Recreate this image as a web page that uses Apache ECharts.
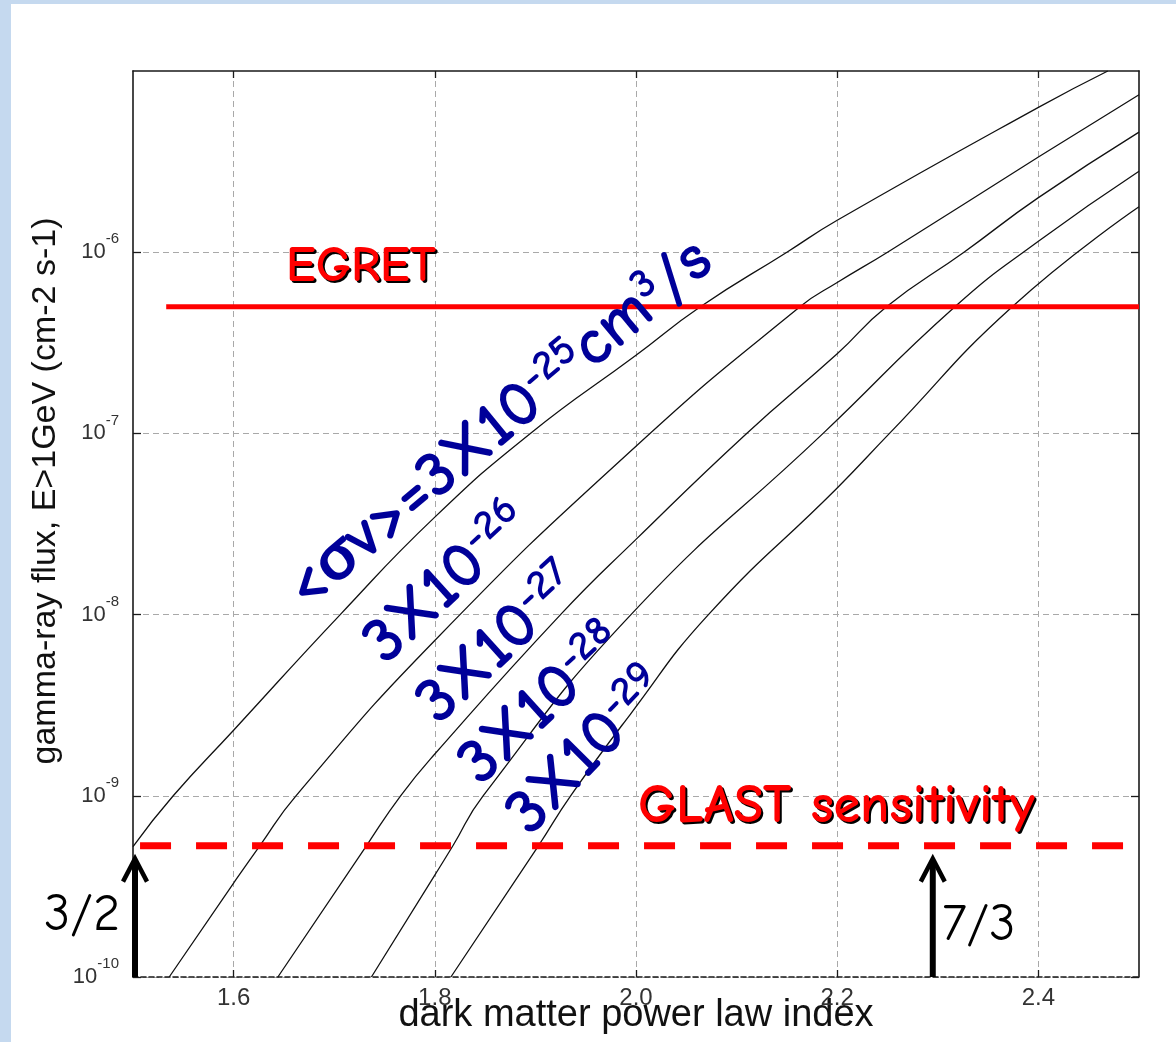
<!DOCTYPE html>
<html>
<head>
<meta charset="utf-8">
<title>Dark matter annihilation flux vs. power law index</title>
<script src="https://cdn.jsdelivr.net/npm/echarts@6.0.0/dist/echarts.min.js"></script>
<style>
  html, body { margin: 0; padding: 0; width: 1176px; height: 1042px; overflow: hidden; background: #c5d9ef; }
  #panel { position: absolute; left: 11px; top: 4px; right: 0; bottom: 0; background: #ffffff; }
  #chart { position: absolute; left: 0; top: 0; width: 1176px; height: 1042px; }
</style>
</head>
<body>
<div id="panel"></div>
<div id="chart"></div>
<script>
// ---- axis ticks ----
const xTickValues = [1.6, 1.8, 2.0, 2.2, 2.4];
const yTickValues = [1e-10, 1e-9, 1e-8, 1e-7, 1e-6];

// ---- flux curves, one per annihilation cross-section <σv> ----
const indexSv25 = [1.5, 1.54, 1.6, 1.706, 1.8, 1.895, 2.0, 2.064, 2.15, 2.2, 2.4, 2.469];
const fluxSv25  = [5.25e-10, 1.0e-9, 2.3e-9, 1.0e-8, 3.45e-8, 1.0e-7, 2.7e-7, 5.0e-7, 1.0e-6, 1.5e-6, 6.3e-6, 1.0e-5];

const indexSv26 = [1.536, 1.6, 1.626, 1.662, 1.8, 2.0, 2.163, 2.2, 2.25, 2.4, 2.5];
const fluxSv26  = [1.0e-10, 3.3e-10, 5.3e-10, 1.0e-9, 7.2e-9, 8.5e-8, 5.0e-7, 6.8e-7, 1.0e-6, 3.35e-6, 7.4e-6];

const indexSv27 = [1.644, 1.732, 1.766, 1.8, 1.925, 2.0, 2.11, 2.2, 2.249, 2.326, 2.4, 2.5];
const fluxSv27  = [1.0e-10, 5.3e-10, 1.0e-9, 1.7e-9, 1.0e-8, 2.6e-8, 1.0e-7, 2.75e-7, 5.0e-7, 1.0e-6, 2.0e-6, 4.6e-6];

const indexSv28 = [1.737, 1.8, 1.818, 1.848, 1.995, 2.186, 2.317, 2.4, 2.5];
const fluxSv28  = [1.0e-10, 3.65e-10, 5.3e-10, 1.0e-9, 1.0e-8, 1.0e-7, 5.0e-7, 1.15e-6, 2.8e-6];

const indexSv29 = [1.816, 1.903, 1.935, 1.994, 2.072, 2.2, 2.252, 2.374, 2.5];
const fluxSv29  = [1.0e-10, 5.3e-10, 1.0e-9, 2.8e-9, 1.0e-8, 5.0e-8, 1.0e-7, 5.0e-7, 1.78e-6];

// ---- instrument levels ----
const egretIndex = [1.533, 2.5];
const egretFlux  = 5.0e-7;
const glastIndex = [1.507, 2.485];
const glastFlux  = 5.3e-10;

// ---- index markers (3/2 and 7/3 arrows) ----
const arrowIndex = [1.502, 2.295];
const arrowBase  = 1.0e-10;
const arrowTip   = 4.5e-10;

const pairs = (xs, ys) => xs.map((x, i) => [x, ys[i]]);

const FF_AXIS  = "'Liberation Sans', Arial, sans-serif";
const FF_HAND  = "'Comic Sans MS', 'Comic Neue', Lato, sans-serif";
const BLUE = '#000099';
const RED  = '#ff0000';

const curveStyle = { color: '#111111', width: 1.3 };
function curve(name, xs, ys) {
  return {
    name: name, type: 'line', data: pairs(xs, ys), symbol: 'none',
    smooth: 0.5, lineStyle: curveStyle, z: 2, silent: true
  };
}

// rich text blocks for the rotated cross-section labels
const blueRich = {
  m: { fontSize: 66, fontWeight: 'bold', fontFamily: FF_HAND, fill: BLUE, lineHeight: 68 },
  s: { fontSize: 42, fontWeight: 'bold', fontFamily: FF_HAND, fill: BLUE, lineHeight: 44, padding: [0, 0, 28, 0] }
};
function blueLabel(text, x, y, deg) {
  return {
    type: 'text', x: x, y: y, rotation: deg * Math.PI / 180, z: 20,
    style: { text: text, rich: blueRich, fill: BLUE, font: 'bold 66px ' + FF_HAND,
             align: 'left', verticalAlign: 'middle', textAlign: 'left', textVerticalAlign: 'middle' }
  };
}
// red hand-lettered label with a hard black drop shadow underneath
function redLabel(text, x, y, size) {
  const font = 'bold ' + size + 'px ' + FF_HAND;
  const base = { align: 'left', verticalAlign: 'bottom', textAlign: 'left', textVerticalAlign: 'bottom', font: font, text: text };
  return [
    { type: 'text', x: x + 2, y: y + 2, z: 19, style: Object.assign({ fill: '#000000' }, base) },
    { type: 'text', x: x, y: y, z: 20, style: Object.assign({ fill: RED }, base) }
  ];
}
function blackLabel(text, x, y, size) {
  return {
    type: 'text', x: x, y: y, z: 20,
    style: { text: text, fill: '#000000', font: size + 'px ' + FF_HAND,
             align: 'left', verticalAlign: 'bottom', textAlign: 'left', textVerticalAlign: 'bottom' }
  };
}

const chart = echarts.init(document.getElementById('chart'), null, { renderer: 'canvas' });

const gridLine = { show: true, lineStyle: { color: '#a9a9a9', width: 1, type: [6, 4] } };
const frameLine = { color: '#1a1a1a', width: 1.6 };

chart.setOption({
  animation: false,
  backgroundColor: 'transparent',
  grid: { left: 133, right: 37, top: 71, bottom: 65, containLabel: false, outerBoundsMode: 'none' },
  xAxis: [
    {
      type: 'value', min: 1.5, max: 2.5, interval: 0.1, position: 'bottom',
      name: 'dark matter power law index', nameLocation: 'middle', nameGap: 20, nameMoveOverlap: false,
      nameTextStyle: { fontFamily: FF_AXIS, fontSize: 38, color: '#111', verticalAlign: 'top' },
      axisLine: { show: true, onZero: false, lineStyle: { color: '#1a1a1a', width: 1.6, type: [5, 3] } },
      axisTick: { show: true, inside: true, length: 7, customValues: xTickValues, lineStyle: { color: '#1a1a1a', width: 1.3 } },
      axisLabel: { customValues: xTickValues, formatter: v => Number(v).toFixed(1),
                   fontFamily: FF_AXIS, fontSize: 24, color: '#333', margin: 9 },
      splitLine: gridLine
    },
    {
      type: 'value', min: 1.5, max: 2.5, interval: 0.1, position: 'top',
      axisLine: { show: true, onZero: false, lineStyle: frameLine },
      axisTick: { show: true, inside: true, length: 7, customValues: xTickValues, lineStyle: { color: '#1a1a1a', width: 1.3 } },
      axisLabel: { show: false }, splitLine: { show: false }
    }
  ],
  yAxis: [
    {
      type: 'log', logBase: 10, min: 1e-10, max: 1e-5, position: 'left',
      name: 'gamma-ray flux, E>1GeV (cm-2 s-1)', nameLocation: 'middle', nameGap: 70, nameMoveOverlap: false,
      nameTextStyle: { fontFamily: FF_AXIS, fontSize: 34, color: '#111', padding: [0, 0, 0, 66] },
      axisLine: { show: true, onZero: false, lineStyle: frameLine },
      axisTick: { show: true, inside: true, length: 8, customValues: yTickValues, lineStyle: { color: '#1a1a1a', width: 1.3 } },
      axisLabel: {
        customValues: yTickValues, margin: 14, verticalAlign: 'middle',
        verticalAlignMinLabel: 'middle', verticalAlignMaxLabel: 'middle',
        formatter: v => '{b|10}{s|' + Math.round(Math.log10(v)) + '}',
        rich: {
          b: { fontFamily: FF_AXIS, fontSize: 22, color: '#333', lineHeight: 22 },
          s: { fontFamily: FF_AXIS, fontSize: 15, color: '#333', lineHeight: 16, padding: [0, 0, 26, 0] }
        }
      },
      splitLine: gridLine
    },
    {
      type: 'log', logBase: 10, min: 1e-10, max: 1e-5, position: 'right',
      axisLine: { show: true, onZero: false, lineStyle: frameLine },
      axisTick: { show: true, inside: true, length: 8, customValues: yTickValues, lineStyle: { color: '#1a1a1a', width: 1.3 } },
      axisLabel: { show: false }, splitLine: { show: false }
    }
  ],
  series: [
    curve('<σv>=3×10⁻²⁵ cm³/s', indexSv25, fluxSv25),
    curve('3×10⁻²⁶', indexSv26, fluxSv26),
    curve('3×10⁻²⁷', indexSv27, fluxSv27),
    curve('3×10⁻²⁸', indexSv28, fluxSv28),
    curve('3×10⁻²⁹', indexSv29, fluxSv29),
    {
      name: 'EGRET', type: 'line', symbol: 'none', z: 4, silent: true,
      data: egretIndex.map(x => [x, egretFlux]),
      lineStyle: { color: RED, width: 5 }
    },
    {
      name: 'GLAST sensitivity', type: 'line', symbol: 'none', z: 4, silent: true,
      data: glastIndex.map(x => [x, glastFlux]),
      lineStyle: { color: RED, width: 7, type: [31, 25], cap: 'butt' }
    },
    {
      name: 'index markers', type: 'custom', z: 5, silent: true, clip: false,
      data: arrowIndex.map(x => [x, arrowBase, arrowTip]),
      encode: { x: 0, y: [1, 2] },
      renderItem: (params, api) => {
        const base = api.coord([api.value(0), api.value(1)]);
        const tip = api.coord([api.value(0), api.value(2)]);
        return {
          type: 'group',
          children: [
            { type: 'line', shape: { x1: base[0], y1: base[1], x2: tip[0], y2: tip[1] + 3 },
              style: { stroke: '#000', lineWidth: 6 } },
            { type: 'polyline',
              shape: { points: [[tip[0] - 12, tip[1] + 23], [tip[0], tip[1]], [tip[0] + 12, tip[1] + 23]] },
              style: { stroke: '#000', lineWidth: 4.5, fill: null, lineJoin: 'miter' } }
          ]
        };
      }
    }
  ],
  graphic: [].concat(
    redLabel('EGRET', 286, 292, 50),
    redLabel('GLAST sensitivity', 638, 834, 54),
    [
      blackLabel('3/2', 44, 941, 52),
      blackLabel('7/3', 942, 951, 52),
      blueLabel('{m|<σv>=3X10}{s|-25}{m|cm}{s|3}{m|/s}', 294, 596, 40),
      blueLabel('{m|3X10}{s|-26}', 373, 652, 43),
      blueLabel('{m|3X10}{s|-27}', 426, 712, 43),
      blueLabel('{m|3X10}{s|-28}', 468, 773, 43),
      blueLabel('{m|3X10}{s|-29}', 517, 824, 46)
    ]
  )
});
</script>
</body>
</html>
